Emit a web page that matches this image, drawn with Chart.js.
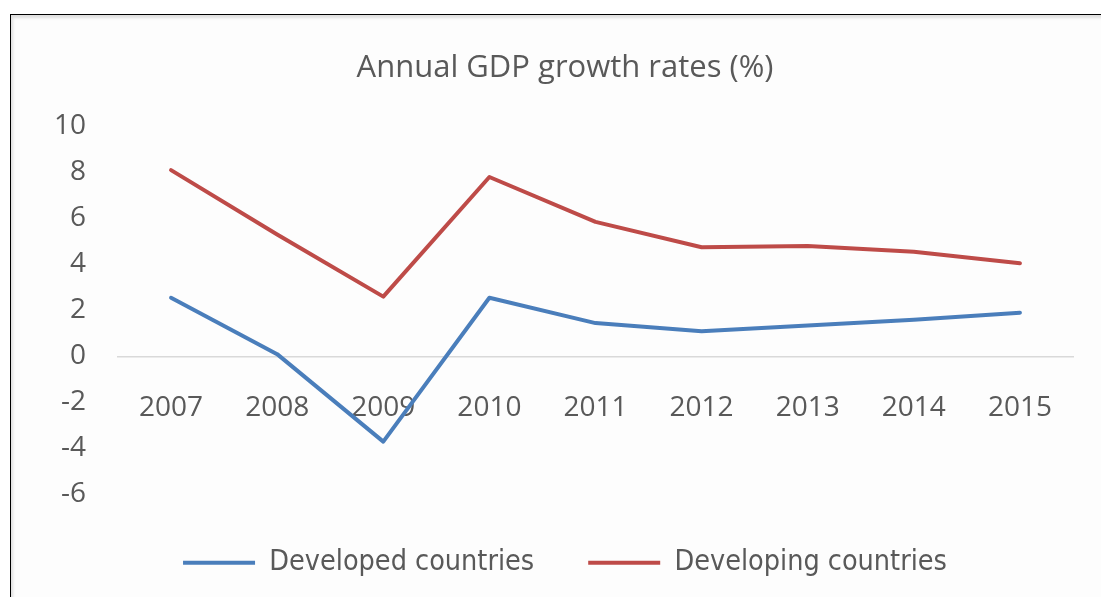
<!DOCTYPE html>
<html>
<head>
<meta charset="utf-8">
<script src="https://cdn.jsdelivr.net/npm/chart.js@4"></script>
<style>
  html, body { margin: 0; padding: 0; background: #fff; overflow: hidden; }
  #frame {
    position: absolute; left: 10px; top: 14px;
    width: 1120px; height: 600px;
    border-top: 1px solid #000; border-left: 1px solid #000;
    background: #fdfdfd;
    box-shadow: inset 2px 3px 3px rgba(0,0,0,0.12);
  }
  #wrap { position: absolute; left: 0; top: 0; width: 1108px; height: 582px; }
</style>
</head>
<body>
<div id="frame"><div id="wrap"><canvas id="gdp-chart"></canvas></div></div>
<script>
const years = ['2007', '2008', '2009', '2010', '2011', '2012', '2013', '2014', '2015'];
const developed = [2.55, 0.1, -3.7, 2.55, 1.45, 1.1, 1.35, 1.6, 1.9];
const developing = [8.1, 5.3, 2.6, 7.8, 5.85, 4.75, 4.8, 4.55, 4.05];
const yTicks = [-6, -4, -2, 0, 2, 4, 6, 8, 10];

const grey = '#595959';
const tickFont = { family: '"Open Sans", sans-serif', size: 28 };

// 시리즈
const developedData = {
  label: 'Developed countries',
  data: developed,
  borderColor: '#4a7ebb',
  backgroundColor: '#4a7ebb',
  borderWidth: 4
}

const developingData = {
  label: 'Developing countries',
  data: developing,
  borderColor: '#be4b48',
  backgroundColor: '#be4b48',
  borderWidth: 4
}

new Chart(document.getElementById('gdp-chart'), {
  type: 'line',
  data: {
    labels: years,
    datasets: [developedData, developingData]
  },
  options: {
    responsive: true,
    maintainAspectRatio: false,
    animation: false,
    layout: { padding: { left: 0, right: 0, top: 0, bottom: 10 } },
    elements: {
      point: { radius: 0 },
      line: { tension: 0, borderJoinStyle: 'round', borderCapStyle: 'round' }
    },
    plugins: {
      title: {
        display: true,
        text: 'Annual GDP growth rates (%)',
        color: grey,
        font: { family: '"Open Sans", sans-serif', size: 31, weight: 'normal' },
        padding: { top: 34.4, bottom: 39.8 }
      },
      legend: {
        position: 'bottom',
        labels: {
          color: grey,
          font: { family: '"Liberation Sans Narrow", "DejaVu Sans Condensed", sans-serif', size: 28.5 },
          boxWidth: 72,
          boxHeight: 4,
          padding: 54,
          generateLabels(chart) {
            return Chart.defaults.plugins.legend.labels.generateLabels(chart).map(item => {
              item.lineWidth = 0;
              return item;
            });
          }
        }
      },
      tooltip: { enabled: false }
    },
    scales: {
      x: {
        position: { y: 0 },
        offset: true,
        grid: { display: false, drawTicks: false },
        border: { display: true, color: '#d9d9d9', width: 1.5 },
        ticks: { color: grey, font: tickFont, padding: 35, maxRotation: 0 }
      },
      y: {
        min: yTicks[0],
        max: yTicks[yTicks.length - 1],
        afterBuildTicks(scale) { scale.ticks = yTicks.map(v => ({ value: v })); },
        afterFit(scale) { scale.width = 107; },
        grid: { display: false, drawTicks: false },
        border: { display: false },
        ticks: { color: grey, font: tickFont, padding: 32 }
      },
      // 오른쪽 여백용 빈 축
      y2: {
        position: 'right',
        afterFit(scale) { scale.width = 46; },
        grid: { display: false, drawTicks: false },
        border: { display: false },
        ticks: { display: false }
      }
    }
  }
});
</script>
</body>
</html>
